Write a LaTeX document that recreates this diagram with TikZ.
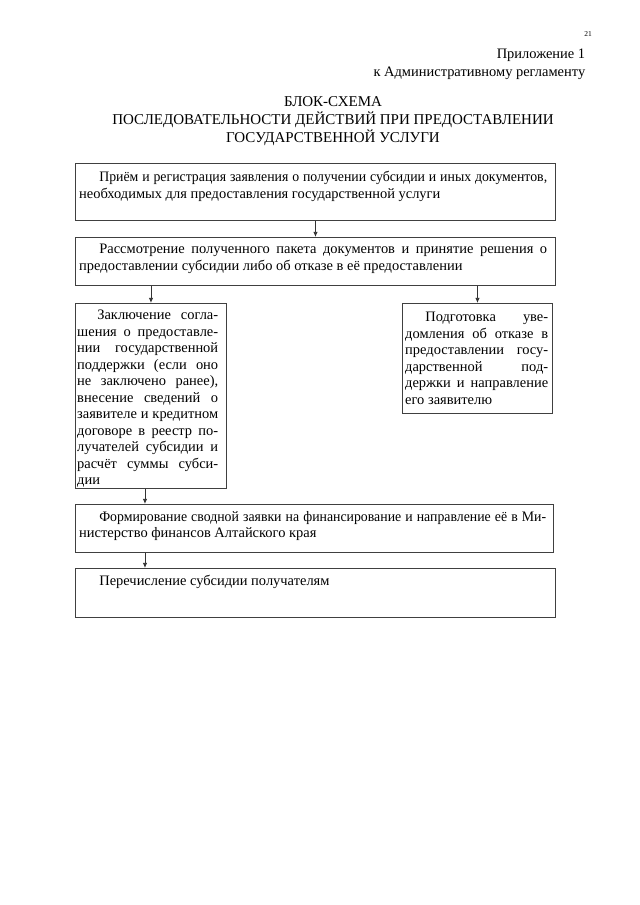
\documentclass[tikz,border=0pt]{standalone}
\usepackage{fontspec}
\setmainfont{Liberation Serif}
\newfontfamily\serree[FakeStretch=0.955]{Liberation Serif}
\usetikzlibrary{arrows.meta,positioning}

\def\pix{0.3282mm}

\begin{document}
\begin{tikzpicture}[x=\pix,y=-\pix]

%Styles
\tikzset{bloc/.style={draw=black!75, line width=0.3mm, anchor=north west, inner sep=0},
	texte/.style={anchor=north west, inner sep=0, align=justify, font=\fontsize{13.5pt}{15.4pt}\selectfont},
	fleche/.style={draw=black!80, line width=0.3mm, -{Latex[length=1.7mm,width=1.5mm]}}}

\def \retrait{\hspace*{6.6mm}}

\useasboundingbox (0,0) rectangle (640,905);

%%% En-tete %%%
\node[font=\fontsize{7pt}{8pt}\selectfont] (page) at (588,34) {21};
\node[anchor=north east, align=right, font=\fontsize{13.5pt}{17pt}\selectfont] (annexe) at (589,45) {Приложение 1\\к Административному регламенту};
\node[align=center, font=\fontsize{14pt}{16.5pt}\selectfont] (titre) at (333,121) {БЛОК-СХЕМА\\ПОСЛЕДОВАТЕЛЬНОСТИ ДЕЙСТВИЙ ПРИ ПРЕДОСТАВЛЕНИИ\\ГОСУДАРСТВЕННОЙ УСЛУГИ};

%%% Blocs %%%
\node[bloc, minimum width=480*\pix, minimum height=57*\pix] (reception) at (75,163) {};
\node[texte, text width=468*\pix] (reception-txt) at (79,171) {\retrait{\serree Приём и регистрация заявления о получении субсидии и иных документов,}\linebreak необходимых для предоставления государственной услуги};

\node[bloc, minimum width=480*\pix, minimum height=48*\pix] (examen) at (75,237) {};
\node[texte, text width=468*\pix] (examen-txt) at (79,244) {\retrait Рассмотрение полученного пакета документов и принятие решения о\linebreak предоставлении субсидии либо об отказе в её предоставлении};

\node[bloc, minimum width=151*\pix, minimum height=185*\pix] (conclusion) at (75,303) {};
\node[texte, text width=141*\pix] (conclusion-txt) at (77,310) {\retrait Заключение согла-\linebreak шения о предоставле-\linebreak нии государственной\linebreak поддержки (если оно\linebreak не заключено ранее),\linebreak внесение сведений о\linebreak заявителе и кредитном\linebreak договоре в реестр по-\linebreak лучателей субсидии и\linebreak расчёт суммы субси-\linebreak дии};

\node[bloc, minimum width=150*\pix, minimum height=110*\pix] (refus) at (402,303) {};
\node[texte, text width=143*\pix] (refus-txt) at (405,312) {\retrait Подготовка уве-\linebreak домления об отказе в\linebreak предоставлении госу-\linebreak дарственной под-\linebreak держки и направление\linebreak его заявителю};

\node[bloc, minimum width=478*\pix, minimum height=48*\pix] (formation) at (75,504) {};
\node[texte, text width=467*\pix] (formation-txt) at (79,511) {\retrait{\serree Формирование сводной заявки на финансирование и направление её в Ми-}\linebreak нистерство финансов Алтайского края};

\node[bloc, minimum width=480*\pix, minimum height=49*\pix] (virement) at (75,568) {};
\node[texte, text width=467*\pix] (virement-txt) at (79,575) {\retrait Перечисление субсидии получателям};

%%% Fleches %%%
\coordinate (axe) at ([xshift=-6*\pix]conclusion.south);
\draw[fleche] (reception.south) -- (examen.north);
\draw[fleche] (examen.south -| conclusion.north) -- (conclusion.north);
\draw[fleche] (examen.south -| refus.north) -- (refus.north);
\draw[fleche] (axe) -- (axe |- formation.north);
\draw[fleche] (axe |- formation.south) -- (axe |- virement.north);

\end{tikzpicture}
\end{document}
